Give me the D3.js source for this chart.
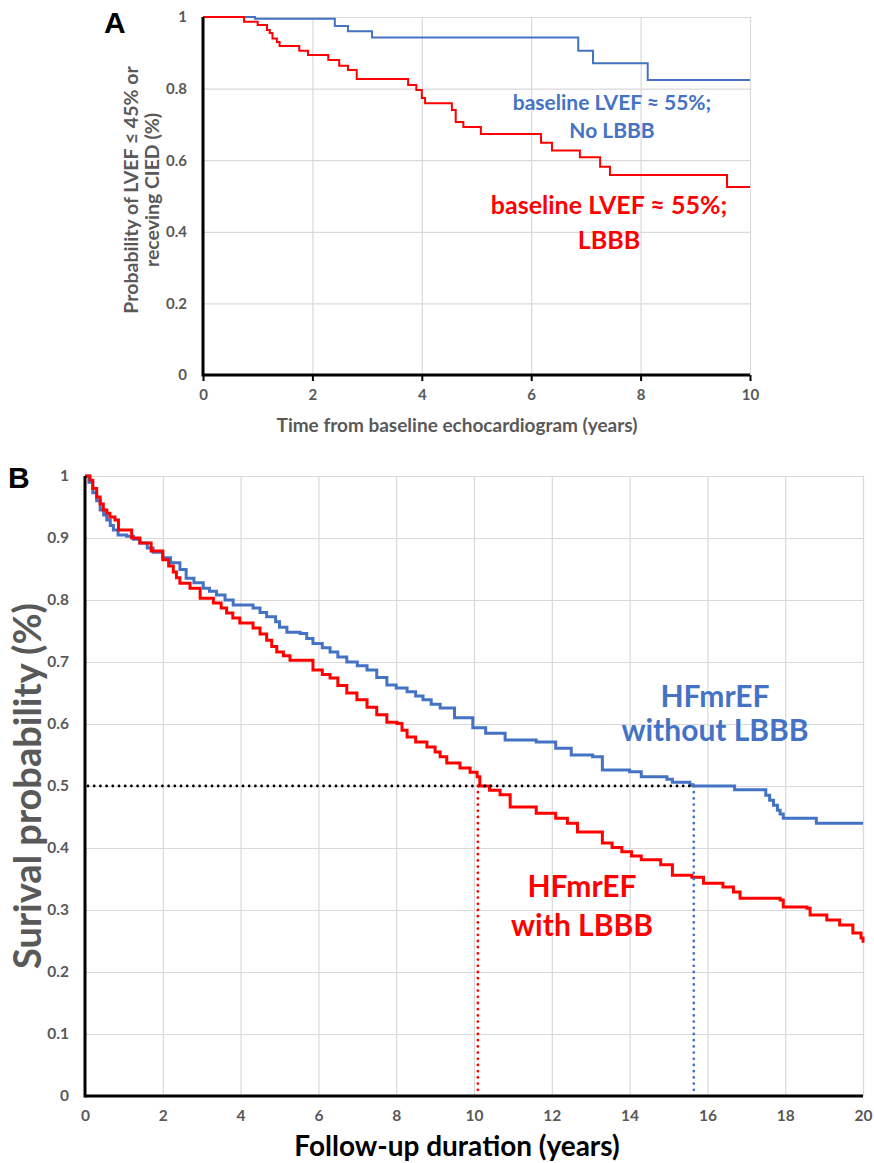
<!DOCTYPE html>
<html>
<head>
<meta charset="utf-8">
<script src="https://cdn.jsdelivr.net/npm/d3@7"></script>
<style>
  body { margin: 0; background: #fff; }
  svg { display: block; }
  .tick text { font-family: Lato, "Open Sans", sans-serif; font-weight: 700; fill: #595959; }
</style>
</head>
<body>
<div id="chart"></div>
<script>
// panel A - time to LVEF <= 45% or CIED
var aTicksX = [0, 2, 4, 6, 8, 10];
var aTicksY = [0, 0.2, 0.4, 0.6, 0.8, 1];
var aNoLbbbT = [0, 0.95, 2.41, 2.65, 3.09, 6.86, 7.13, 8.13, 10];
var aNoLbbbS = [1, 0.995, 0.975, 0.96, 0.943, 0.906, 0.871, 0.824, 0.824];
var aLbbbT = [0, 0.75, 1.0, 1.17, 1.22, 1.27, 1.35, 1.4, 1.76, 1.92, 2.29, 2.49, 2.65, 2.81,
  3.75, 3.9, 4.0, 4.06, 4.55, 4.62, 4.76, 5.08, 6.18, 6.38, 6.89, 7.26, 7.44, 9.58, 10];
var aLbbbS = [1, 0.987, 0.978, 0.964, 0.955, 0.94, 0.93, 0.919, 0.906, 0.894, 0.88, 0.864, 0.852, 0.827,
  0.81, 0.796, 0.774, 0.759, 0.74, 0.707, 0.693, 0.673, 0.649, 0.627, 0.608, 0.582, 0.559, 0.525, 0.525];

// panel B - survival
var bTicksX = [0, 2, 4, 6, 8, 10, 12, 14, 16, 18, 20];
var bTicksY = [0, 0.1, 0.2, 0.3, 0.4, 0.5, 0.6, 0.7, 0.8, 0.9, 1];
var bNoLbbbT = [0, 0.1, 0.2, 0.3, 0.39, 0.48, 0.56, 0.65, 0.73, 0.85, 1.07, 1.25, 1.41, 1.6, 1.75, 2.0, 2.2, 2.44, 2.6, 2.8, 3.04,
  3.2, 3.38, 3.6, 3.81, 4.32, 4.5, 4.67, 4.9, 5.0, 5.19, 5.53, 5.7, 5.86, 6.1, 6.3, 6.5, 6.73, 7.0, 7.25, 7.5, 7.76, 8.0, 8.28,
  8.5, 8.69, 8.9, 9.13, 9.5, 9.97, 10.3, 10.8, 11.6, 12.1, 12.5, 13.05, 13.3, 14.0, 14.3, 14.96, 15.1, 15.55, 15.63, 16.7,
  17.5, 17.6, 17.7, 17.8, 17.87, 17.95, 18.8, 20];
var bNoLbbbS = [1, 0.99, 0.973, 0.96, 0.945, 0.937, 0.929, 0.92, 0.913, 0.905, 0.903, 0.898, 0.892, 0.884, 0.877, 0.868, 0.86, 0.849, 0.835,
  0.828, 0.819, 0.814, 0.808, 0.8, 0.792, 0.787, 0.78, 0.773, 0.765, 0.756, 0.748, 0.746, 0.738, 0.73, 0.723, 0.716, 0.708,
  0.7, 0.694, 0.687, 0.675, 0.663, 0.658, 0.652, 0.645, 0.639, 0.632, 0.626, 0.61, 0.594, 0.585, 0.574, 0.571, 0.561, 0.55,
  0.547, 0.526, 0.523, 0.515, 0.511, 0.506, 0.502, 0.5, 0.494, 0.485, 0.477, 0.469, 0.461, 0.455, 0.448, 0.44, 0.44];
var bLbbbT = [0, 0.13, 0.2, 0.3, 0.39, 0.47, 0.56, 0.64, 0.77, 0.86, 0.94, 1.2, 1.41, 1.7, 2.0, 2.15, 2.27, 2.35, 2.44, 2.7,
  2.96, 3.3, 3.5, 3.64, 3.8, 3.98, 4.32, 4.5, 4.67, 4.8, 4.93, 5.1, 5.27, 5.44, 5.86, 6.1, 6.3, 6.5, 6.73, 6.99, 7.25, 7.5,
  7.76, 8.02, 8.15, 8.28, 8.5, 8.79, 9.0, 9.13, 9.3, 9.64, 9.9, 10.08, 10.15, 10.4, 10.67, 10.93, 11.27, 11.6, 12.1, 12.4,
  12.66, 13.05, 13.3, 13.55, 13.8, 14.05, 14.3, 14.8, 15.1, 15.6, 15.9, 16.4, 16.67, 16.84, 17.87, 17.95, 18.56, 18.64,
  19.07, 19.4, 19.74, 19.95, 20];
var bLbbbS = [1, 0.993, 0.98, 0.966, 0.955, 0.945, 0.94, 0.934, 0.929, 0.913, 0.913, 0.9, 0.892, 0.879, 0.865, 0.855, 0.845, 0.836,
  0.827, 0.819, 0.803, 0.795, 0.787, 0.779, 0.771, 0.763, 0.755, 0.745, 0.735, 0.725, 0.716, 0.71, 0.703, 0.703, 0.687,
  0.68, 0.674, 0.662, 0.65, 0.639, 0.627, 0.615, 0.603, 0.601, 0.59, 0.579, 0.571, 0.563, 0.555, 0.547, 0.537, 0.529,
  0.522, 0.515, 0.5, 0.493, 0.486, 0.466, 0.466, 0.456, 0.448, 0.44, 0.426, 0.426, 0.408, 0.401, 0.394, 0.387, 0.381,
  0.373, 0.356, 0.353, 0.343, 0.337, 0.329, 0.319, 0.316, 0.305, 0.303, 0.292, 0.284, 0.276, 0.263, 0.255, 0.247];

var medianLbbb = 10.1;
var medianNoLbbb = 15.65;

var blue = "#4472C4";
var red = "#FF0000";
var grey = "#595959";
var gridColor = "#d9d9d9";

var svg = d3.select("#chart").append("svg")
    .attr("width", 874)
    .attr("height", 1163);

function pairs(t, s) {
    return t.map((d, i) => [d, s[i]]);
}

function drawPanel(opt) {
    var g = svg.append("g");
    var x = d3.scaleLinear().domain(opt.xDomain).range(opt.xRange);
    var y = d3.scaleLinear().domain([0, 1]).range(opt.yRange);

    // gridlines
    g.append("g")
        .attr("transform", `translate(0,${opt.yRange[0]})`)
        .call(d3.axisBottom(x).tickValues(opt.ticksX).tickSize(-(opt.yRange[0] - opt.yRange[1])).tickFormat(""))
        .call(a => a.select(".domain").remove())
        .selectAll("line").attr("stroke", gridColor).attr("stroke-width", 1.2);
    g.append("g")
        .attr("transform", `translate(${opt.xRange[0]},0)`)
        .call(d3.axisLeft(y).tickValues(opt.ticksY).tickSize(-(opt.xRange[1] - opt.xRange[0])).tickFormat(""))
        .call(a => a.select(".domain").remove())
        .selectAll("line").attr("stroke", gridColor).attr("stroke-width", 1.2);

    // tick labels
    var xAx = g.append("g")
        .attr("transform", `translate(0,${opt.yRange[0]})`)
        .call(d3.axisBottom(x).tickValues(opt.ticksX).tickSize(opt.xTickLen).tickPadding(opt.xPad).tickFormat(d3.format("d")));
    xAx.select(".domain").remove();
    xAx.selectAll("line").attr("stroke", "#000").attr("stroke-width", 2);
    xAx.selectAll("text").style("font-size", opt.tickFont + "px");

    var yAx = g.append("g")
        .attr("transform", `translate(${opt.xRange[0]},0)`)
        .call(d3.axisLeft(y).tickValues(opt.ticksY).tickSize(0).tickPadding(opt.yPad).tickFormat(d => d === 0 || d === 1 ? d : d3.format(".1f")(d)));
    yAx.select(".domain").remove();
    yAx.selectAll("text").style("font-size", opt.tickFont + "px");

    var line = d3.line().x(d => x(d[0])).y(d => y(d[1])).curve(d3.curveStepAfter);

    opt.series.forEach(s => {
        g.append("path")
            .datum(pairs(s.t, s.s))
            .attr("fill", "none")
            .attr("stroke", s.color)
            .attr("stroke-width", opt.lineWidth)
            .attr("d", line);
    });

    // axes lines
    g.append("line")
        .attr("x1", opt.xRange[0]).attr("x2", opt.xRange[0])
        .attr("y1", opt.yRange[0] + 1.5).attr("y2", opt.yRange[1])
        .attr("stroke", "#000").attr("stroke-width", 3);
    g.append("line")
        .attr("x1", opt.xRange[0]).attr("x2", opt.xRange[1])
        .attr("y1", opt.yRange[0]).attr("y2", opt.yRange[0])
        .attr("stroke", "#000").attr("stroke-width", 3);

    return {g: g, x: x, y: y};
}

// ---------- panel A ----------
var pA = drawPanel({
    xDomain: [0, 10], xRange: [203, 750], yRange: [375, 17],
    ticksX: aTicksX, ticksY: aTicksY,
    xTickLen: 6, xPad: 8, yPad: 16, tickFont: 15, lineWidth: 2,
    series: [
        {t: aNoLbbbT, s: aNoLbbbS, color: blue},
        {t: aLbbbT, s: aLbbbS, color: red}
    ]
});

svg.append("text")
    .attr("x", 104).attr("y", 33)
    .style("font-family", "'Liberation Sans', Arial, sans-serif")
    .style("font-weight", 700).style("font-size", "30px")
    .text("A");

var aYLab = svg.append("text")
    .attr("transform", "translate(138,190) rotate(-90)")
    .style("font-family", "Lato, sans-serif").style("font-weight", 700)
    .style("font-size", "19.5px").style("fill", grey)
    .attr("text-anchor", "middle");
aYLab.append("tspan").attr("x", 0).attr("dy", 0).text("Probability of LVEF \u2264 45% or");
aYLab.append("tspan").attr("x", 0).attr("dy", 21).text("receving CIED (%)");

svg.append("text")
    .attr("x", 457).attr("y", 432)
    .attr("text-anchor", "middle")
    .style("font-family", "Lato, sans-serif").style("font-weight", 700)
    .style("font-size", "19px").style("fill", grey)
    .text("Time from baseline echocardiogram (years)");

var aBlueLab = svg.append("text")
    .attr("text-anchor", "middle")
    .style("font-family", "Lato, sans-serif").style("font-weight", 700)
    .style("font-size", "21px").style("fill", blue);
aBlueLab.append("tspan").attr("x", 612).attr("y", 110).text("baseline LVEF \u2248 55%;");
aBlueLab.append("tspan").attr("x", 612).attr("y", 138).text("No LBBB");

var aRedLab = svg.append("text")
    .attr("text-anchor", "middle")
    .style("font-family", "Lato, sans-serif").style("font-weight", 700)
    .style("font-size", "25px").style("fill", red);
aRedLab.append("tspan").attr("x", 609).attr("y", 214).text("baseline LVEF \u2248 55%;");
aRedLab.append("tspan").attr("x", 609).attr("y", 249).text("LBBB");

// ---------- panel B ----------
var pB = drawPanel({
    xDomain: [0, 20], xRange: [85, 863], yRange: [1096, 476],
    ticksX: bTicksX, ticksY: bTicksY,
    xTickLen: 0, xPad: 14, yPad: 16, tickFont: 15.5, lineWidth: 3,
    series: [
        {t: bNoLbbbT, s: bNoLbbbS, color: blue},
        {t: bLbbbT, s: bLbbbS, color: red}
    ]
});

// median lines
pB.g.append("line")
    .attr("x1", pB.x(0) + 3).attr("x2", pB.x(medianNoLbbb))
    .attr("y1", pB.y(0.5)).attr("y2", pB.y(0.5))
    .attr("stroke", "#000").attr("stroke-width", 2.8)
    .attr("stroke-dasharray", "0 6.2").attr("stroke-linecap", "round");
pB.g.append("line")
    .attr("x1", pB.x(medianLbbb)).attr("x2", pB.x(medianLbbb))
    .attr("y1", pB.y(0.5)).attr("y2", pB.y(0))
    .attr("stroke", red).attr("stroke-width", 2.8)
    .attr("stroke-dasharray", "0 6.2").attr("stroke-linecap", "round");
pB.g.append("line")
    .attr("x1", pB.x(medianNoLbbb)).attr("x2", pB.x(medianNoLbbb))
    .attr("y1", pB.y(0.5)).attr("y2", pB.y(0))
    .attr("stroke", blue).attr("stroke-width", 2.8)
    .attr("stroke-dasharray", "0 6.2").attr("stroke-linecap", "round");

svg.append("text")
    .attr("x", 8).attr("y", 488)
    .style("font-family", "'Liberation Sans', Arial, sans-serif")
    .style("font-weight", 700).style("font-size", "30px")
    .text("B");

svg.append("text")
    .attr("transform", "translate(41,786) rotate(-90)")
    .attr("text-anchor", "middle")
    .style("font-family", "Lato, sans-serif").style("font-weight", 700)
    .style("font-size", "38px").style("fill", grey)
    .text("Surival probability (%)");

svg.append("text")
    .attr("x", 457).attr("y", 1156)
    .attr("text-anchor", "middle")
    .style("font-family", "Lato, sans-serif").style("font-weight", 700)
    .style("font-size", "28px").style("fill", "#000")
    .text("Follow-up duration (years)");

var bBlueLab = svg.append("text")
    .attr("text-anchor", "middle")
    .style("font-family", "Lato, sans-serif").style("font-weight", 700)
    .style("font-size", "30px").style("fill", blue);
bBlueLab.append("tspan").attr("x", 715).attr("y", 707).text("HFmrEF");
bBlueLab.append("tspan").attr("x", 715).attr("y", 741).text("without LBBB");

var bRedLab = svg.append("text")
    .attr("text-anchor", "middle")
    .style("font-family", "Lato, sans-serif").style("font-weight", 700)
    .style("font-size", "30px").style("fill", red);
bRedLab.append("tspan").attr("x", 582).attr("y", 897).text("HFmrEF");
bRedLab.append("tspan").attr("x", 582).attr("y", 936).text("with LBBB");
</script>
</body>
</html>
